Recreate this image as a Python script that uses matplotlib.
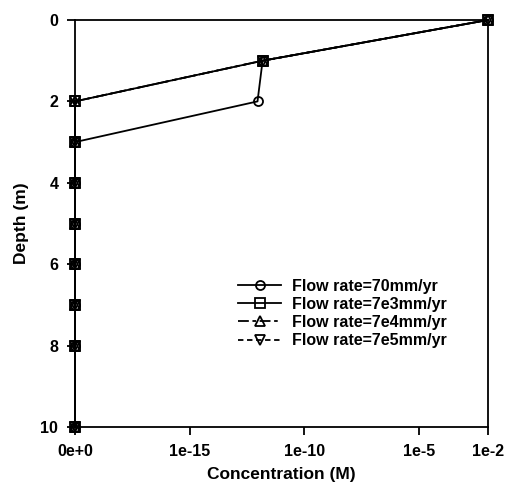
import numpy as np
import matplotlib
matplotlib.use('Agg')
from matplotlib import pyplot as plt

plt.rcParams['font.family'] = ['Liberation Sans', 'DejaVu Sans']
plt.rcParams['font.weight'] = 'bold'

# depth profile of concentration for 4 flow rates
depth = [0, 1, 2, 3, 4, 5, 6, 7, 8, 10]
conc_70 = [1e-2, 1.5e-12, 9e-13, 0, 0, 0, 0, 0, 0, 0]
conc_7e3 = [1e-2, 1.5e-12, 0, 0, 0, 0, 0, 0, 0, 0]
conc_7e4 = [1e-2, 1.5e-12, 0, 0, 0, 0, 0, 0, 0, 0]
conc_7e5 = [1e-2, 1.5e-12, 0, 0, 0, 0, 0, 0, 0, 0]
labels = ['Flow rate=70mm/yr', 'Flow rate=7e3mm/yr',
          'Flow rate=7e4mm/yr', 'Flow rate=7e5mm/yr']
xticks = [1e-20, 1e-15, 1e-10, 1e-5, 1e-2]
xticklabels = ['0e+0', '1e-15', '1e-10', '1e-5', '1e-2']

xmin = 1e-20  # zero shown at the axis floor

fig = plt.figure(figsize=(5.05, 4.9), dpi=100)
ax = fig.add_axes([75/505, 63/490, 413/505, 407/490])

series = [conc_70, conc_7e3, conc_7e4, conc_7e5]
markers = ['o', 's', '^', 'v']
styles = ['-', '-', (0, (6, 2, 2, 2)), (0, (3, 2))]
for c, m, ls, lab in zip(series, markers, styles, labels):
    c = np.array(c, dtype=float)
    c = np.where(c > 0, c, xmin)
    ax.plot(c, depth, color='k', ls=ls, lw=1.3, marker=m, ms=6.5,
            mfc='none', mec='k', mew=1.3, label=lab, clip_on=False)

ax.set_xscale('log')
ax.set_xlim(xmin, 1e-2)
ax.set_ylim(10, 0)
ax.set_xticks(xticks)
ax.set_xticklabels(xticklabels)
ax.minorticks_off()
ax.set_yticks([0, 2, 4, 6, 8, 10])
ax.tick_params(direction='out', length=6, width=1.3, labelsize=11.5, pad=6)
for s in ax.spines.values():
    s.set_linewidth(1.3)

ax.set_xlabel('Concentration (M)', fontsize=12.5, fontweight='bold', labelpad=6)
ax.set_ylabel('Depth (m)', fontsize=12.5, fontweight='bold', labelpad=8)

ax.legend(loc='upper left', bbox_to_anchor=(0.36, 0.40), frameon=False,
          fontsize=11.5, handlelength=2.7, labelspacing=0.2, handletextpad=0.7)

fig.savefig('out.png', dpi=100)
